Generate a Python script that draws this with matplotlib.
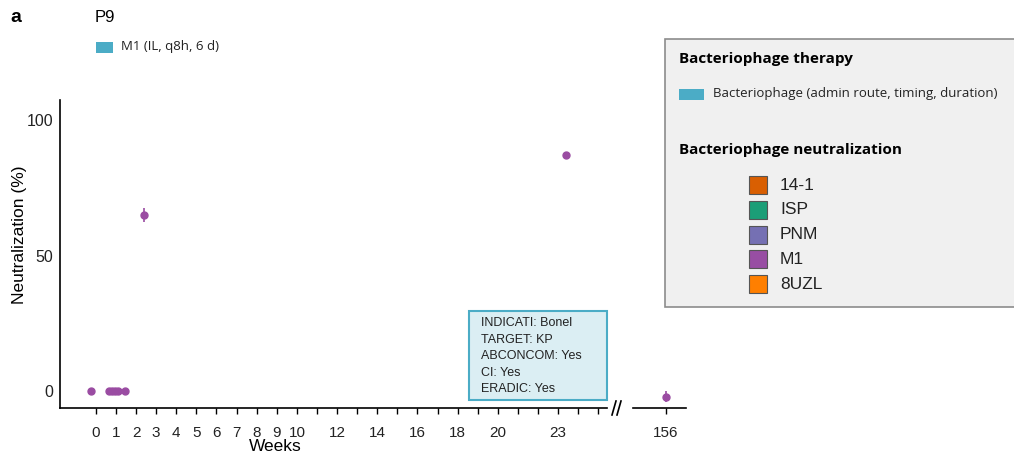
import matplotlib
matplotlib.use("Agg")
import matplotlib.pyplot as plt
from matplotlib.patches import Rectangle

# ---- data ----
weeks_main = [-0.25, 0.65, 0.8, 0.95, 1.1, 1.45, 2.4, 23.4]
neut_main = [0, 0, 0, 0, 0, 0, 65, 87]
err_main = [0, 0, 0, 0, 0, 0, 2.5, 1.0]
weeks_late = [156]
neut_late = [-2]
err_late = [2]

tick_weeks = list(range(0, 26))
tick_labels = {0: "0", 1: "1", 2: "2", 3: "3", 4: "4", 5: "5", 6: "6", 7: "7", 8: "8",
               9: "9", 10: "10", 12: "12", 14: "14", 16: "16", 18: "18", 20: "20", 23: "23"}
y_ticks = [0, 50, 100]

legend_phages = ["14-1", "ISP", "PNM", "M1", "8UZL"]
legend_colors = ["#d95f02", "#1b9e77", "#7570b3", "#984ea3", "#ff7f00"]
box_lines = ["INDICATI: Bonel", "TARGET: KP", "ABCONCOM: Yes", "CI: Yes", "ERADIC: Yes"]

point_color = "#9a4ca2"
cyan = "#4bacc6"

W, H = 1014, 461
plt.rcParams['font.family'] = ['Liberation Sans', 'DejaVu Sans']
fig = plt.figure(figsize=(W / 100, H / 100), dpi=100)

def fx(px):
    return px / W

def fy(py):
    return 1 - py / H

AX_L, AX_R, AX_T, AX_B = 60, 607, 100, 408

# main axis
ax = fig.add_axes([fx(AX_L), fy(AX_B), fx(AX_R - AX_L), fy(AX_T) - fy(AX_B)])
ax.set_xlim(-1.786, 25.43)
ax.set_ylim(-6.07, 107.2)
ax.errorbar(weeks_main, neut_main, yerr=err_main, fmt="o", color=point_color,
            ms=5, elinewidth=1.2, capsize=0, zorder=3)
for s in ["top", "right"]:
    ax.spines[s].set_visible(False)
ax.spines["left"].set_linewidth(1.2)
ax.spines["bottom"].set_linewidth(1.2)
ax.set_xticks(tick_weeks)
ax.set_xticklabels([tick_labels.get(t, "") for t in tick_weeks], fontsize=11, color="#222222")
ax.set_yticks(y_ticks)
ax.set_yticklabels([str(v) for v in y_ticks], fontsize=11.5, color="#222222")
ax.tick_params(axis="y", length=0, pad=5)
ax.tick_params(axis="x", length=4, width=1, pad=9)
ax.set_ylabel("Neutralization (%)", fontsize=12.5)
ax.yaxis.set_label_coords((20 - AX_L) / (AX_R - AX_L), (AX_B - 235) / (AX_B - AX_T))
ax.set_xlabel("Weeks", fontsize=12.5)
ax.xaxis.set_label_coords((275 - AX_L) / (AX_R - AX_L), -(446 - AX_B) / (AX_B - AX_T))
ax.xaxis.label.set_va("center")
ax.yaxis.label.set_va("center")

# late axis
ax2 = fig.add_axes([fx(633), fy(AX_B), fx(686 - 633), fy(AX_T) - fy(AX_B)])
ax2.set_xlim(154.36, 156.99)
ax2.set_ylim(-6.07, 107.2)
ax2.errorbar(weeks_late, neut_late, yerr=err_late, fmt="o", color=point_color,
             ms=5, elinewidth=1.2, capsize=0, zorder=3)
for s in ["top", "right", "left"]:
    ax2.spines[s].set_visible(False)
ax2.spines["bottom"].set_linewidth(1.2)
ax2.set_xticks(weeks_late)
ax2.set_xticklabels([str(w) for w in weeks_late], fontsize=11, color="#222222")
ax2.set_yticks([])
ax2.tick_params(axis="x", length=4, width=1, pad=9)
ax2.patch.set_alpha(0)

# break marks
for dx in (-3, 2):
    fig.add_artist(plt.Line2D([fx(615 + dx), fx(619 + dx)], [fy(415), fy(401)],
                              color="black", lw=1.2, transform=fig.transFigure))

# annotation box
fig.add_artist(Rectangle((fx(469), fy(400)), fx(607 - 469), fy(311) - fy(400),
                         transform=fig.transFigure, facecolor="#dbeef3",
                         edgecolor=cyan, lw=1.5, zorder=5))
for i, line in enumerate(box_lines):
    fig.text(fx(481), fy(323.5 + i * 16.4), line, fontsize=9, va="center",
             ha="left", color="#222222", zorder=6)

# top labels
fig.text(fx(10), fy(17), "a", fontsize=14, fontweight="bold", va="center")
fig.text(fx(95), fy(18), "P9", fontsize=12, va="center")
fig.add_artist(Rectangle((fx(96), fy(53)), fx(17), fy(42) - fy(53),
                         transform=fig.transFigure, facecolor=cyan, edgecolor="none"))
fig.text(fx(121), fy(46.5), "M1 (IL, q8h, 6 d)", fontsize=9.5, va="center",
         family=["Open Sans", "DejaVu Sans"], color="#222222")

# legend box
fig.add_artist(Rectangle((fx(665), fy(307)), fx(1030 - 665), fy(39) - fy(307),
                         transform=fig.transFigure, facecolor="#f0f0f0",
                         edgecolor="#8c8c8c", lw=1.2))
fig.text(fx(679), fy(59), "Bacteriophage therapy", fontsize=11, fontweight="bold",
         va="center", family=["Open Sans", "DejaVu Sans"])
fig.add_artist(Rectangle((fx(679), fy(100)), fx(25), fy(89) - fy(100),
                         transform=fig.transFigure, facecolor=cyan, edgecolor="none"))
fig.text(fx(713), fy(93.5), "Bacteriophage (admin route, timing, duration)", fontsize=9.5,
         va="center", family=["Open Sans", "DejaVu Sans"], color="#222222")
fig.text(fx(679), fy(150), "Bacteriophage neutralization", fontsize=11, fontweight="bold",
         va="center", family=["Open Sans", "DejaVu Sans"])
for i, (name, col) in enumerate(zip(legend_phages, legend_colors)):
    yc = 185 + i * 24.8
    fig.add_artist(Rectangle((fx(749), fy(yc + 9)), fx(18), fy(yc - 9) - fy(yc + 9),
                             transform=fig.transFigure, facecolor=col,
                             edgecolor="#555555", lw=0.8))
    fig.text(fx(780), fy(yc), name, fontsize=12.5, va="center", color="#222222")

fig.savefig("out.png", dpi=100)
